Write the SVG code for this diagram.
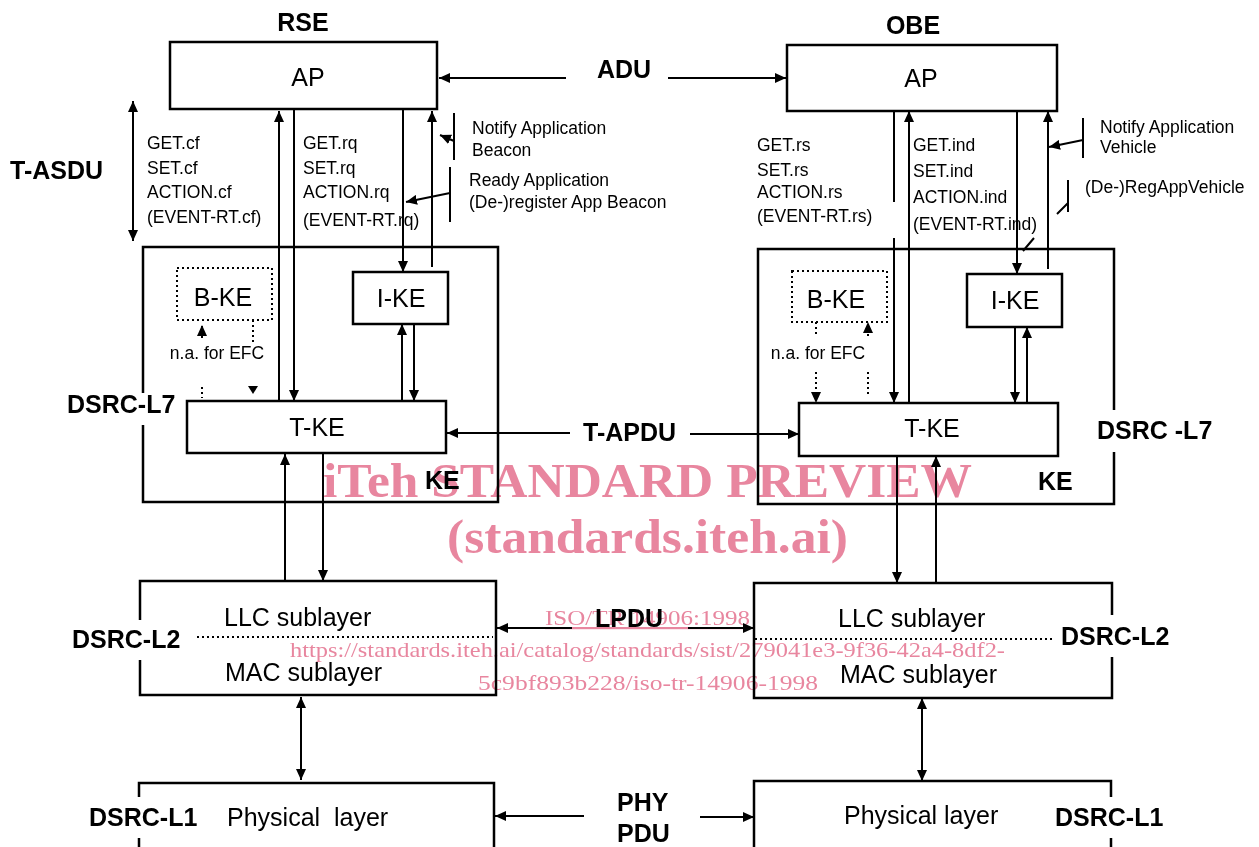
<svg xmlns="http://www.w3.org/2000/svg" width="1259" height="847" viewBox="0 0 1259 847">
<style>
.box{fill:none;stroke:#000;stroke-width:2.5}
.dbox{fill:none;stroke:#000;stroke-width:2;stroke-dasharray:2 3}
.ln{fill:none;stroke:#000;stroke-width:2}
.dl{fill:none;stroke:#000;stroke-width:2;stroke-dasharray:2 3}
.big{font-family:"Liberation Sans",Arial,sans-serif;font-size:25px;fill:#000}
.bold{font-family:"Liberation Sans",Arial,sans-serif;font-size:25px;font-weight:bold;fill:#000}
.sm{font-family:"Liberation Sans",Arial,sans-serif;font-size:17.5px;fill:#000}
.wm{font-family:"Liberation Serif","Times New Roman",serif;fill:#e8869f;mix-blend-mode:multiply}
</style>
<defs>
<marker id="ah" viewBox="0 0 11 10" refX="11" refY="5" markerWidth="11" markerHeight="10" markerUnits="userSpaceOnUse" orient="auto-start-reverse"><path d="M0,0 L11,5 L0,10 z" fill="#000"/></marker>
</defs>
<rect width="1259" height="847" fill="#fff"/>

<!-- RSE side -->
<g id="rse-label"><text class="bold" x="303" y="31" text-anchor="middle">RSE</text></g>
<g id="rse-ap"><rect class="box" x="170" y="42" width="267" height="67"/><text class="big" x="308" y="86" text-anchor="middle">AP</text></g>
<g id="t-asdu"><text class="bold" x="10" y="179">T-ASDU</text></g>
<g id="rse-prims">
<text class="sm" x="147" y="149">GET.cf</text>
<text class="sm" x="147" y="174">SET.cf</text>
<text class="sm" x="147" y="198">ACTION.cf</text>
<text class="sm" x="147" y="223">(EVENT-RT.cf)</text>
<text class="sm" x="303" y="149">GET.rq</text>
<text class="sm" x="303" y="174">SET.rq</text>
<text class="sm" x="303" y="198">ACTION.rq</text>
<text class="sm" x="303" y="226">(EVENT-RT.rq)</text>
<text class="sm" x="472" y="134">Notify Application</text>
<text class="sm" x="472" y="156">Beacon</text>
<text class="sm" x="469" y="186">Ready Application</text>
<text class="sm" x="469" y="208">(De-)register App Beacon</text>
</g>
<g id="rse-ke">
<path class="box" d="M143,393 V247 H498 V502 H143 V425"/>
<text class="bold" x="425" y="489">KE</text>
</g>
<g id="rse-bke"><rect class="dbox" x="177" y="268" width="95" height="52"/><text class="big" x="223" y="306" text-anchor="middle">B-KE</text></g>
<g id="rse-na"><text class="sm" x="217" y="359" text-anchor="middle">n.a. for EFC</text></g>
<g id="rse-ike"><rect class="box" x="353" y="272" width="95" height="52"/><text class="big" x="401" y="307" text-anchor="middle">I-KE</text></g>
<g id="rse-tke"><rect class="box" x="187" y="401" width="259" height="52"/><text class="big" x="317" y="436" text-anchor="middle">T-KE</text></g>
<g id="rse-l7"><text class="bold" x="67" y="413">DSRC-L7</text></g>
<g id="rse-llc">
<path class="box" d="M140,620 V581 H496 V695 H140 V660"/>
<path class="dl" d="M197,637 H493"/>
<text class="big" x="224" y="626">LLC sublayer</text>
<text class="big" x="225" y="681">MAC sublayer</text>
</g>
<g id="rse-l2"><text class="bold" x="72" y="648">DSRC-L2</text></g>
<g id="rse-phy">
<path class="box" d="M139,860 V838 M139,797 V783 H494 V860"/>
<text class="big" x="227" y="826" xml:space="preserve">Physical  layer</text>
</g>
<g id="rse-l1"><text class="bold" x="89" y="826">DSRC-L1</text></g>

<!-- OBE side -->
<g id="obe-label"><text class="bold" x="913" y="34" text-anchor="middle">OBE</text></g>
<g id="obe-ap"><rect class="box" x="787" y="45" width="270" height="66"/><text class="big" x="921" y="87" text-anchor="middle">AP</text></g>
<g id="obe-prims">
<text class="sm" x="757" y="151">GET.rs</text>
<text class="sm" x="757" y="176">SET.rs</text>
<text class="sm" x="757" y="198">ACTION.rs</text>
<text class="sm" x="757" y="222">(EVENT-RT.rs)</text>
<text class="sm" x="913" y="151">GET.ind</text>
<text class="sm" x="913" y="177">SET.ind</text>
<text class="sm" x="913" y="203">ACTION.ind</text>
<text class="sm" x="913" y="230">(EVENT-RT.ind)</text>
<text class="sm" x="1100" y="133">Notify Application</text>
<text class="sm" x="1100" y="153">Vehicle</text>
<text class="sm" x="1085" y="193">(De-)RegAppVehicle</text>
</g>
<g id="obe-ke">
<path class="box" d="M1114,410 V249 H758 V504 H1114 V452"/>
<text class="bold" x="1038" y="490">KE</text>
</g>
<g id="obe-bke"><rect class="dbox" x="792" y="271" width="95" height="51"/><text class="big" x="836" y="308" text-anchor="middle">B-KE</text></g>
<g id="obe-na"><text class="sm" x="818" y="359" text-anchor="middle">n.a. for EFC</text></g>
<g id="obe-ike"><rect class="box" x="967" y="274" width="95" height="53"/><text class="big" x="1015" y="309" text-anchor="middle">I-KE</text></g>
<g id="obe-tke"><rect class="box" x="799" y="403" width="259" height="53"/><text class="big" x="932" y="437" text-anchor="middle">T-KE</text></g>
<g id="obe-l7"><text class="bold" x="1097" y="439">DSRC -L7</text></g>
<g id="obe-llc">
<path class="box" d="M1112,615 V583 H754 V698 H1112 V657"/>
<path class="dl" d="M755,639 H1053"/>
<text class="big" x="838" y="627">LLC sublayer</text>
<text class="big" x="840" y="683">MAC sublayer</text>
</g>
<g id="obe-l2"><text class="bold" x="1061" y="645">DSRC-L2</text></g>
<g id="obe-phy">
<path class="box" d="M754,860 V781 H1111 V797 M1111,838 V860"/>
<text class="big" x="844" y="824">Physical layer</text>
</g>
<g id="obe-l1"><text class="bold" x="1055" y="826">DSRC-L1</text></g>

<!-- peer labels -->
<g id="adu"><text class="bold" x="597" y="78">ADU</text></g>
<g id="t-apdu"><text class="bold" x="583" y="441">T-APDU</text></g>
<g id="lpdu"><text class="bold" x="595" y="627">LPDU</text></g>
<g id="phypdu"><text class="bold" x="617" y="811">PHY</text><text class="bold" x="617" y="842">PDU</text></g>

<!-- connectors -->
<g id="connectors">
<path class="ln" d="M566,78 H439" marker-end="url(#ah)"/>
<path class="ln" d="M668,78 H786" marker-end="url(#ah)"/>
<path class="ln" d="M133,101 V241" marker-start="url(#ah)" marker-end="url(#ah)"/>
<path class="ln" d="M279,401 V111" marker-end="url(#ah)"/>
<path class="ln" d="M294,110 V401" marker-end="url(#ah)"/>
<path class="ln" d="M403,110 V272" marker-end="url(#ah)"/>
<path class="ln" d="M432,267 V111" marker-end="url(#ah)"/>
<path class="ln" d="M454,113 V160"/>
<path class="ln" d="M454,141 L440,135" marker-end="url(#ah)"/>
<path class="ln" d="M450,167 V222"/>
<path class="ln" d="M450,193 L406,202" marker-end="url(#ah)"/>
<path class="ln" d="M402,401 V324" marker-end="url(#ah)"/>
<path class="ln" d="M414,324 V401" marker-end="url(#ah)"/>
<path class="dl" d="M202,338 V325" marker-end="url(#ah)"/>
<path class="dl" d="M253,320 V342"/>
<path class="dl" d="M202,387 V398"/>
<path d="M248,386 L258,386 L253,394 z" fill="#000"/>
<path class="ln" d="M570,433 H447" marker-end="url(#ah)"/>
<path class="ln" d="M690,434 H799" marker-end="url(#ah)"/>
<path class="ln" d="M285,581 V454" marker-end="url(#ah)"/>
<path class="ln" d="M323,453 V581" marker-end="url(#ah)"/>
<path class="ln" d="M572,628 H497" marker-end="url(#ah)"/>
<path class="ln" d="M688,628 H754" marker-end="url(#ah)"/>
<path class="ln" d="M301,697 V780" marker-start="url(#ah)" marker-end="url(#ah)"/>
<path class="ln" d="M584,816 H495" marker-end="url(#ah)"/>
<path class="ln" d="M700,817 H754" marker-end="url(#ah)"/>

<path class="ln" d="M894,112 V202 M894,238 V403" marker-end="url(#ah)"/>
<path class="ln" d="M909,403 V111" marker-end="url(#ah)"/>
<path class="ln" d="M1017,111 V274" marker-end="url(#ah)"/>
<path class="ln" d="M1048,269 V111" marker-end="url(#ah)"/>
<path class="ln" d="M1083,118 V158"/>
<path class="ln" d="M1083,140 L1049,147" marker-end="url(#ah)"/>
<path class="ln" d="M1068,180 V212"/>
<path class="ln" d="M1068,203 L1057,214 M1034,238 L1023,251"/>
<path class="ln" d="M1015,327 V403" marker-end="url(#ah)"/>
<path class="ln" d="M1027,403 V327" marker-end="url(#ah)"/>
<path class="dl" d="M816,322 V335"/>
<path class="dl" d="M868,336 V322" marker-end="url(#ah)"/>
<path class="dl" d="M816,372 V403" marker-end="url(#ah)"/>
<path class="dl" d="M868,372 V396"/>
<path class="ln" d="M897,456 V583" marker-end="url(#ah)"/>
<path class="ln" d="M936,583 V456" marker-end="url(#ah)"/>
<path class="ln" d="M922,698 V781" marker-start="url(#ah)" marker-end="url(#ah)"/>
</g>

<!-- watermark -->
<g id="watermark">
<text class="wm" x="323" y="497" font-size="48" font-weight="bold" textLength="649" lengthAdjust="spacingAndGlyphs">iTeh STANDARD PREVIEW</text>
<text class="wm" x="447" y="553" font-size="48" font-weight="bold" textLength="401" lengthAdjust="spacingAndGlyphs">(standards.iteh.ai)</text>
<text class="wm" x="545" y="625" font-size="22" text-decoration="underline" textLength="205" lengthAdjust="spacingAndGlyphs">ISO/TR 14906:1998</text>
<text class="wm" x="290" y="657" font-size="22" textLength="715" lengthAdjust="spacingAndGlyphs">https://standards.iteh.ai/catalog/standards/sist/279041e3-9f36-42a4-8df2-</text>
<text class="wm" x="478" y="690" font-size="22" textLength="340" lengthAdjust="spacingAndGlyphs">5c9bf893b228/iso-tr-14906-1998</text>
</g>
</svg>
